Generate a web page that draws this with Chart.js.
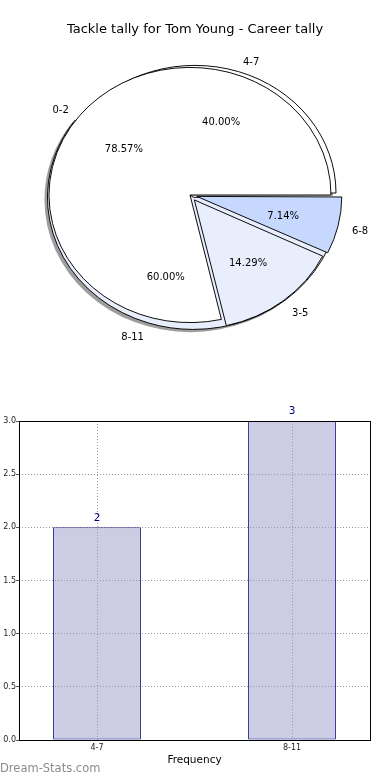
<!DOCTYPE html>
<html>
<head>
<meta charset="utf-8">
<title>Tackle tally</title>
<script src="https://cdn.jsdelivr.net/npm/chart.js@4.4.1/dist/chart.umd.min.js"></script>
<style>
  body { margin: 0; background: #fff; }
  #pieBox { position: relative; width: 390px; height: 390px; }
  #pieBox canvas { position: absolute; left: 0; top: 0; }
  #barChart { display: block; }
</style>
</head>
<body>
<div id="pieBox">
  <canvas id="pieOuter" width="390" height="390"></canvas>
  <canvas id="pieInner" width="390" height="390"></canvas>
</div>
<canvas id="barChart" width="390" height="390"></canvas>
<script>
const titleText = 'Tackle tally for Tom Young - Career tally';

// pie underneath: the bands from the bar chart
const bandLabels = ['4-7', '8-11'];
const bandCounts = [2, 3];
const bandColors = ['#ffffff', '#e8eefc'];
const bandExplode = [0, 20];

// pie drawn on top of it
const rangeLabels = ['0-2', '3-5', '6-8'];
const rangeCounts = [11, 2, 1];
const rangeColors = ['#ffffff', '#e8eefc', '#c6d8fd'];
const rangeExplode = [0, 28, 28];

// bar chart
const barLabels = ['4-7', '8-11'];
const barValues = [2, 3];
const yTicks = [0, 0.5, 1, 1.5, 2, 2.5, 3];

const FONT = '"DejaVu Sans", sans-serif';
const SQUASH = 0.905;

let outerPie = null; // its labels get written on the top canvas

// how far chart.js pushes an exploded arc out (offset/4 shift + radius bump)
function arcPush(a) {
    const off = (a.options.offset || 0) / 4;
    const fix = 1 - Math.sin(Math.min(Math.PI, a.endAngle - a.startAngle));
    return { shift: off, bump: off * fix };
}

// percentages at 0.6 r, category names at 1.1 r (like matplotlib)
function writeLabels(ctx, chart) {
    const meta = chart.getDatasetMeta(0);
    const vals = chart.data.datasets[0].data;
    const total = vals.reduce((s, v) => s + v, 0);
    ctx.save();
    ctx.font = '10px ' + FONT;
    ctx.fillStyle = '#000';
    ctx.textBaseline = 'middle';
    meta.data.forEach((a, i) => {
        const mid = (a.startAngle + a.endAngle) / 2;
        const p = arcPush(a);
        const put = (dist, text, align) => {
            const d = p.shift + p.bump + dist * a.outerRadius;
            ctx.textAlign = align;
            ctx.fillText(text, a.x + Math.cos(mid) * d, a.y + Math.sin(mid) * d * SQUASH + 2.5);
        };
        put(0.6, (vals[i] / total * 100).toFixed(2) + '%', 'center');
        put(1.1, chart.data.labels[i], Math.cos(mid) > 0 ? 'left' : 'right');
    });
    ctx.restore();
}

// squash the pie into an ellipse, add shadow, then write labels unsquashed
const pieDecor = {
    id: 'pieDecor',
    beforeDatasetsDraw(chart, args, opts) {
        const ctx = chart.ctx;
        const arcs = chart.getDatasetMeta(0).data;
        const cx = arcs[0].x, cy = arcs[0].y;
        ctx.save();
        ctx.translate(cx, cy);
        ctx.scale(1, SQUASH);
        ctx.translate(-cx, -cy);
        if (opts.shadow) {
            ctx.fillStyle = 'rgba(40,40,40,0.45)';
            arcs.forEach(a => {
                const p = arcPush(a);
                const mid = (a.startAngle + a.endAngle) / 2;
                const x = a.x + Math.cos(mid) * p.shift - 3;
                const y = a.y + Math.sin(mid) * p.shift + 3;
                ctx.beginPath();
                ctx.moveTo(x, y);
                ctx.arc(x, y, a.outerRadius + p.bump, a.startAngle, a.endAngle);
                ctx.closePath();
                ctx.fill();
            });
        }
    },
    afterDatasetsDraw(chart, args, opts) {
        chart.ctx.restore();
        if (opts.topLayer) {
            if (outerPie) writeLabels(chart.ctx, outerPie);
            writeLabels(chart.ctx, chart);
        }
    }
};

// chart.js goes clockwise, matplotlib counter-clockwise -> reverse the order
function pieConfig(labels, counts, colors, explode, padding, title, shadow, topLayer) {
    const rev = arr => arr.slice().reverse();
    return {
        type: 'pie',
        data: {
            labels: rev(labels),
            datasets: [{
                data: rev(counts),
                backgroundColor: rev(colors),
                offset: rev(explode),
                borderColor: '#000',
                borderWidth: 1,
                radius: 141
            }]
        },
        options: {
            responsive: false,
            animation: false,
            rotation: 90,
            events: [],
            layout: { padding: padding },
            plugins: {
                legend: { display: false },
                tooltip: { enabled: false },
                title: {
                    display: !!title,
                    text: title || '',
                    color: '#000',
                    font: { family: FONT, size: 13, weight: 'normal' },
                    padding: { top: 22, bottom: 0 }
                },
                pieDecor: { shadow: shadow, topLayer: topLayer }
            }
        },
        plugins: [pieDecor]
    };
}

outerPie = new Chart(document.getElementById('pieOuter'),
    pieConfig(bandLabels, bandCounts, bandColors, bandExplode,
        { left: 10, right: 10, top: 0, bottom: 41.6 }, titleText, true, false));

new Chart(document.getElementById('pieInner'),
    pieConfig(rangeLabels, rangeCounts, rangeColors, rangeExplode,
        { left: 0, right: 10, top: 0, bottom: 0 }, null, false, true));

// box around the plot, value labels, watermark
const barDecor = {
    id: 'barDecor',
    afterDraw(chart) {
        const { ctx, chartArea: a } = chart;
        ctx.save();
        ctx.strokeStyle = '#000';
        ctx.lineWidth = 1;
        ctx.strokeRect(a.left + 0.5, a.top + 0.5, a.right - a.left, a.bottom - a.top);

        ctx.font = '10.5px ' + FONT;
        ctx.fillStyle = '#000080';
        ctx.textAlign = 'center';
        ctx.textBaseline = 'bottom';
        chart.getDatasetMeta(0).data.forEach((bar, i) => {
            ctx.fillText(String(barValues[i]), bar.x, bar.y - 4);
        });

        ctx.font = '11.5px ' + FONT;
        ctx.fillStyle = '#8c8c8c';
        ctx.textAlign = 'left';
        ctx.textBaseline = 'middle';
        ctx.fillText('Dream-Stats.com', 0, chart.height - 11);
        ctx.restore();
    }
};

const tickFont = { family: FONT, size: 8 };

new Chart(document.getElementById('barChart'), {
    type: 'bar',
    data: {
        datasets: [{
            data: barValues.map((v, i) => ({ x: i, y: v })),
            backgroundColor: '#ccccE5',
            borderColor: '#000080',
            borderWidth: 1,
            borderSkipped: false,
            barPercentage: 0.45,
            categoryPercentage: 1
        }]
    },
    options: {
        responsive: false,
        animation: false,
        events: [],
        layout: { padding: { left: 0, right: 20, top: 31, bottom: 13.7 } },
        plugins: { legend: { display: false }, tooltip: { enabled: false } },
        scales: {
            x: {
                type: 'linear',
                min: -0.4,
                max: 1.4,
                offset: false,
                afterBuildTicks: s => { s.ticks = barLabels.map((_, i) => ({ value: i })); },
                afterFit: s => { s.height = 26.3; },
                ticks: {
                    callback: v => barLabels[v],
                    font: tickFont,
                    color: '#222',
                    padding: 3,
                    maxRotation: 0,
                    autoSkip: false
                },
                grid: { color: '#999', drawTicks: false, offset: false, z: 1 },
                border: { display: false, dash: [1, 2] },
                title: {
                    display: true,
                    text: 'Frequency',
                    color: '#000',
                    font: { family: FONT, size: 10.5 },
                    padding: { top: 0, bottom: 0 }
                }
            },
            y: {
                min: 0,
                max: 3,
                afterBuildTicks: s => { s.ticks = yTicks.map(v => ({ value: v })); },
                afterFit: s => { s.width = 19; },
                ticks: {
                    callback: v => v.toFixed(1),
                    font: tickFont,
                    color: '#222',
                    padding: 0
                },
                grid: { color: '#999', tickLength: 3, tickColor: '#555', z: 1 },
                border: { display: false, dash: [1, 2] }
            }
        }
    },
    plugins: [barDecor]
});
</script>
</body>
</html>
